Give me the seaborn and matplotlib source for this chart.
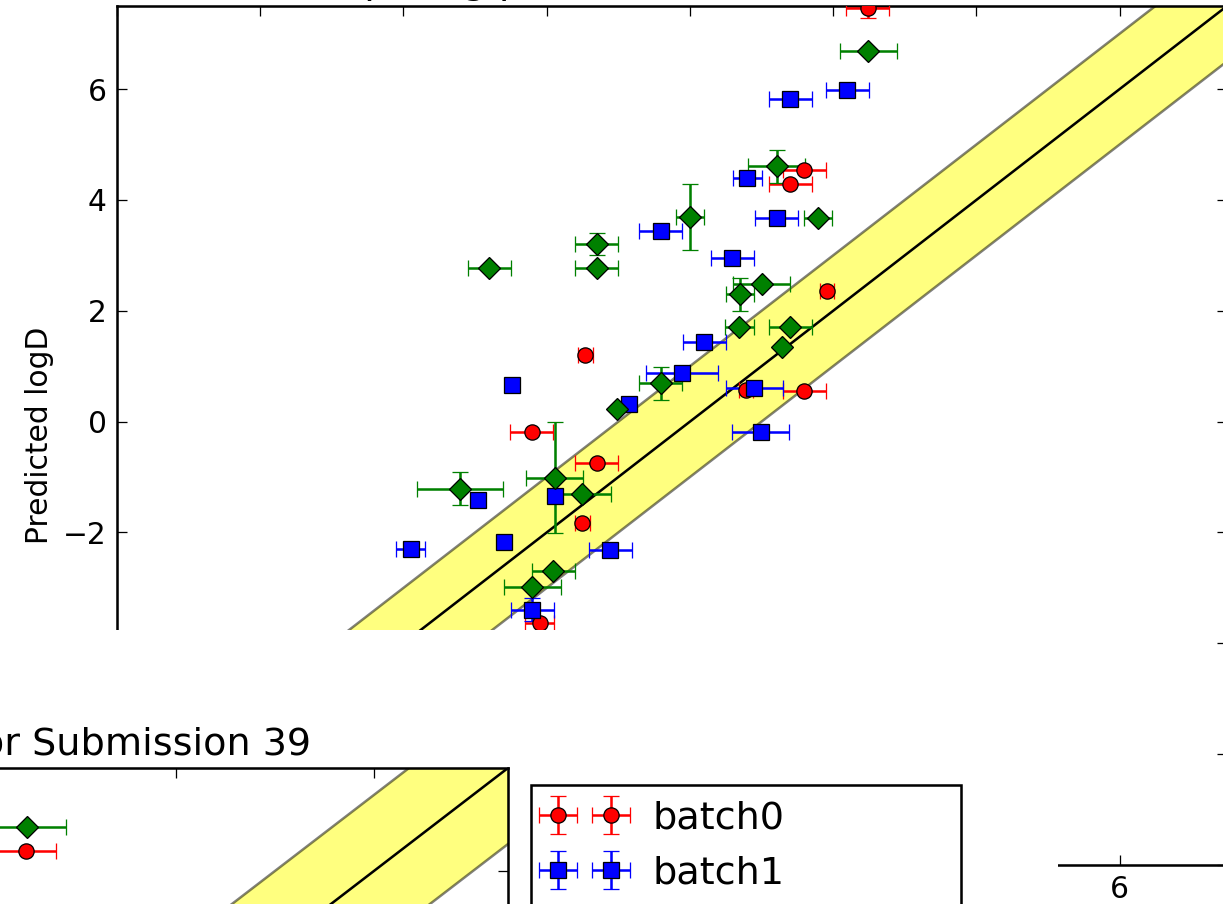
import numpy as np
import matplotlib
matplotlib.use("Agg")
import matplotlib.pyplot as plt
import seaborn as sns
from matplotlib.patches import Rectangle

nan = np.nan

# ---------------- Submission 38: experimental vs predicted logD ----------------
batch0_exp = [2.48, 1.60, 1.40, 1.91, -1.46, 0.78, 1.60, -2.21, -1.30, -1.50, -2.10]
batch0_pred = [7.47, 4.54, 4.28, 2.36, 1.20, 0.58, 0.55, -0.19, -0.75, -1.82, -3.63]
batch0_xerr = [0.3, 0.3, 0.3, 0.1, 0.1, 0.1, 0.3, 0.3, 0.3, 0.1, 0.2]
batch0_yerr = [0.18, nan, nan, nan, nan, nan, nan, nan, nan, nan, nan]

batch1_exp = [2.20, 1.40, 0.80, 1.21, -0.41, 0.59, 0.20, -2.49, -0.11, 0.90,
              -0.85, 0.99, -1.88, -2.96, -2.59, -3.90, -1.11, -2.20]
batch1_pred = [5.99, 5.82, 4.40, 3.67, 3.44, 2.95, 1.43, 0.66, 0.87, 0.60,
               0.31, -0.19, -1.35, -1.42, -2.18, -2.29, -2.32, -3.39]
batch1_xerr = [0.3, 0.3, 0.2, 0.3, 0.3, 0.3, 0.3, nan, 0.5, 0.4,
               nan, 0.4, nan, nan, nan, 0.2, 0.3, 0.3]
batch1_yerr = [nan] * 17 + [0.2]

batch2_exp = [2.49, 1.21, 1.79, 0.00, -1.30, -1.30, -2.80, 1.00, 0.70, 0.69,
              1.40, 1.29, -0.41, -1.02, -3.21, -1.89, -1.50, -1.91, -2.20]
batch2_pred = [6.69, 4.61, 3.67, 3.69, 3.20, 2.78, 2.78, 2.48, 2.30, 1.70,
               1.70, 1.34, 0.69, 0.22, -1.21, -1.01, -1.31, -2.70, -2.99]
batch2_xerr = [0.4, 0.4, 0.2, 0.2, 0.3, 0.3, 0.3, 0.4, 0.2, 0.2,
               0.3, nan, 0.3, nan, 0.6, 0.4, 0.4, 0.3, 0.4]
batch2_yerr = [nan, 0.3, nan, 0.6, 0.2, nan, nan, nan, 0.3, nan,
               nan, nan, 0.3, nan, 0.3, 1.0, nan, nan, nan]

# ---------------- Submission 39 ----------------
s39_batch0_exp = [2.48]
s39_batch0_pred = [6.26]
s39_batch0_xerr = [0.3]
s39_batch2_exp = [2.49]
s39_batch2_pred = [6.57]
s39_batch2_xerr = [0.4]

batch_labels = ["batch0", "batch1", "batch2"]
batch_colors = ["red", "blue", "green"]
batch_markers = ["o", "s", "D"]

LIMITS_38 = (-8.0, 7.5)
LIMITS_39 = (-4.59, 7.35)
TICKS = np.arange(-8, 8, 2)

# ---------------- style ----------------
sns.set_style("ticks")
plt.rcParams.update({
    "font.family": ["DejaVu Sans"],
    "text.color": "black",
    "axes.labelcolor": "black",
    "axes.titlecolor": "black",
    "axes.edgecolor": "black",
    "axes.linewidth": 1.0,
    "axes.facecolor": "white",
    "figure.facecolor": "white",
    "xtick.direction": "in",
    "ytick.direction": "in",
    "xtick.top": True,
    "ytick.right": True,
    "xtick.major.size": 4,
    "ytick.major.size": 4,
    "xtick.major.width": 0.5,
    "ytick.major.width": 0.5,
    "xtick.major.pad": 4,
    "ytick.major.pad": 4,
    "xtick.color": "black",
    "ytick.color": "black",
    "xtick.labelcolor": "black",
    "ytick.labelcolor": "black",
    "xtick.labelsize": 11.7,
    "ytick.labelsize": 11.7,
    "axes.labelsize": 11.7,
    "axes.grid": False,
    "legend.frameon": True,
})

DPI = 183
W, H = 1223, 904
fig = plt.figure(figsize=(W / DPI, H / DPI), dpi=DPI)


def px_axes(left, top, right, bottom, **kw):
    return fig.add_axes([left / W, (H - bottom) / H, (right - left) / W, (bottom - top) / H], **kw)


def draw_reference(ax, lims):
    ref = np.array([-20.0, 20.0])
    ax.fill_between(ref, ref - 1, ref + 1, facecolor="yellow", alpha=0.5,
                    edgecolor="black", linewidth=1.0, zorder=1)
    sns.lineplot(x=ref, y=ref, color="black", linewidth=1.0, ax=ax, zorder=2)
    ax.set_xticks(TICKS)
    ax.set_yticks(TICKS)
    ax.set_xlim(*lims)
    ax.set_ylim(*lims)


def draw_batch(ax, x, y, xerr, yerr, idx):
    return ax.errorbar(
        np.asarray(x, float), np.asarray(y, float),
        xerr=None if xerr is None else np.asarray(xerr, float),
        yerr=None if yerr is None else np.asarray(yerr, float),
        fmt=batch_markers[idx], color=batch_colors[idx], ecolor=batch_colors[idx],
        markeredgecolor="black", markeredgewidth=0.5, markersize=6,
        elinewidth=1.0, capsize=3, capthick=0.5, label=batch_labels[idx], zorder=3,
    )


# ---------------- Submission 38 panel ----------------
ax1 = px_axes(117, 6, 1227, 865, zorder=0)
draw_reference(ax1, LIMITS_38)
h0 = draw_batch(ax1, batch0_exp, batch0_pred, batch0_xerr, batch0_yerr, 0)
h1 = draw_batch(ax1, batch1_exp, batch1_pred, batch1_xerr, batch1_yerr, 1)
h2 = draw_batch(ax1, batch2_exp, batch2_pred, batch2_xerr, batch2_yerr, 2)
ax1.set_title("Comparing predictions for Submission 38", fontsize=15, pad=5)
ax1.set_ylabel("Predicted logD", labelpad=3.4)

# blank band between the panels
fig.add_artist(Rectangle((0, 0), 1058 / W, (H - 630) / H, transform=fig.transFigure,
                         facecolor="white", edgecolor="none", zorder=1))

# ---------------- Submission 39 panel ----------------
ax2 = px_axes(-674, 768, 508, 768 + 908, zorder=2)
draw_reference(ax2, LIMITS_39)
draw_batch(ax2, s39_batch0_exp, s39_batch0_pred, s39_batch0_xerr, None, 0)
draw_batch(ax2, s39_batch2_exp, s39_batch2_pred, s39_batch2_xerr, None, 2)
ax2.set_title("Comparing predictions for Submission 39", fontsize=15, pad=5)

leg = ax2.legend([h0, h1, h2], batch_labels, numpoints=2, fontsize=15,
                 loc="upper left", mode="expand", borderaxespad=0,
                 bbox_to_anchor=(531 / W, 0.0, (961 - 531) / W, (H - 785) / H),
                 bbox_transform=fig.transFigure, fancybox=False, framealpha=1,
                 edgecolor="black", borderpad=0.4, labelspacing=0.5,
                 handlelength=2.0, handletextpad=0.8)
leg.get_frame().set_linewidth(1.0)
for txt in leg.get_texts():
    txt.set_color("black")

fig.savefig("out.png", dpi=DPI, facecolor="white")
